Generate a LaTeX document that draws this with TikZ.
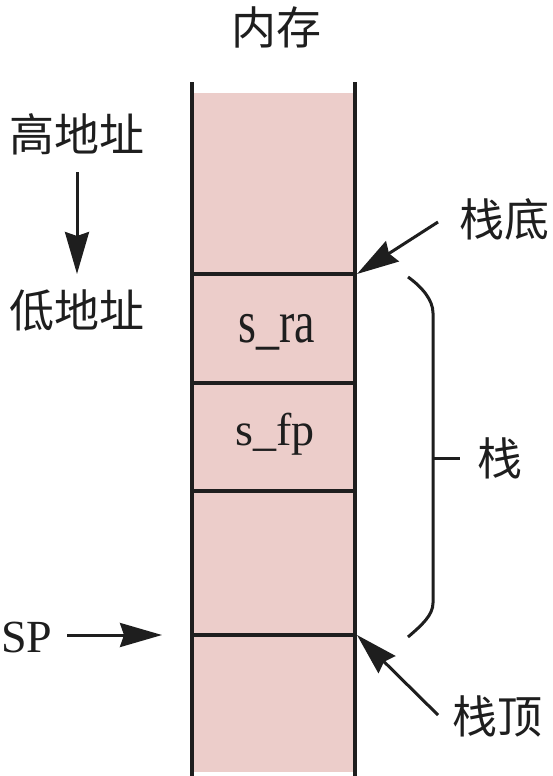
\documentclass[tikz,border=0pt]{standalone}
\usepackage{fontspec}
\setmainfont{Liberation Serif}
\newfontfamily\cjk{Noto Sans CJK SC}
\usetikzlibrary{arrows.meta}
\definecolor{memfill}{RGB}{236,205,202}
\definecolor{ink}{RGB}{30,30,30}
\tikzset{
  wall/.style={draw=ink, line width=4pt},
  sep/.style={draw=ink, line width=3.6pt},
  arr/.style={draw=ink, line width=3pt, -{Stealth[length=42pt,width=24pt,inset=4pt]}},
  cjklabel/.style={inner sep=0pt, text=ink, font=\cjk\fontsize{45}{50}\selectfont},
  latlabel/.style={inner sep=0pt, text=ink, font=\fontsize{46}{50}\selectfont},
}
\begin{document}
\begin{tikzpicture}[x=1pt,y=-1pt]
\useasboundingbox (0,0) rectangle (552,776);
\fill[white] (0,0) rectangle (552,776);
% memory column
\fill[memfill] (194,93) rectangle (355,772);
\draw[wall] (192,82) -- (192,776);
\draw[wall] (355,82) -- (355,776);
\coordinate (L1) at (190,274); \coordinate (R1) at (357,274);
\coordinate (L2) at (190,383); \coordinate (R2) at (357,383);
\coordinate (L3) at (190,491); \coordinate (R3) at (357,491);
\coordinate (L4) at (190,635); \coordinate (R4) at (357,635);
\draw[sep] (L1) -- (R1);
\draw[sep] (L2) -- (R2);
\draw[sep] (L3) -- (R3);
\draw[sep] (L4) -- (R4);
% labels
\node[cjklabel] (mem) at (276,27) {内存};
\node[cjklabel] (hi) at (77,134) {高地址};
\node[cjklabel] (lo) at (77,310) {低地址};
\node[latlabel, anchor=base, yscale=1.3, transform shape] (sra) at (277,342) {s\_ra};
\node[latlabel, anchor=base] (sfp) at (275,445) {s\_fp};
\node[latlabel, anchor=west] (sp) at (1,637) {SP};
\node[cjklabel] (bottom) at (504,219) {栈底};
\node[cjklabel] (top) at (497,716) {栈顶};
\node[cjklabel] (stack) at (500,458) {栈};
% arrows
\coordinate (hiA) at (77,172); \coordinate (hiB) at (77,274);
\draw[arr] (hiA) -- (hiB);
\coordinate (spA) at (67,635); \coordinate (spB) at (162,635);
\draw[arr] (spA) -- (spB);
\coordinate (bA) at (438,222);
\draw[arr] (bA) -- (R1);
\coordinate (tA) at (438,715);
\draw[arr] (tA) -- (R4);
% brace
\coordinate (brT) at (408,277); \coordinate (brB) at (408,637);
\coordinate (brM) at (433,458); \coordinate (brTick) at (460,458);
\draw[draw=ink, line width=3pt] (brT) .. controls (422,287) and (433,300) .. (433,313)
  -- (433,603) .. controls (433,615) and (422,625) .. (brB);
\draw[draw=ink, line width=3pt] (brM) -- (brTick);
\end{tikzpicture}
\end{document}
